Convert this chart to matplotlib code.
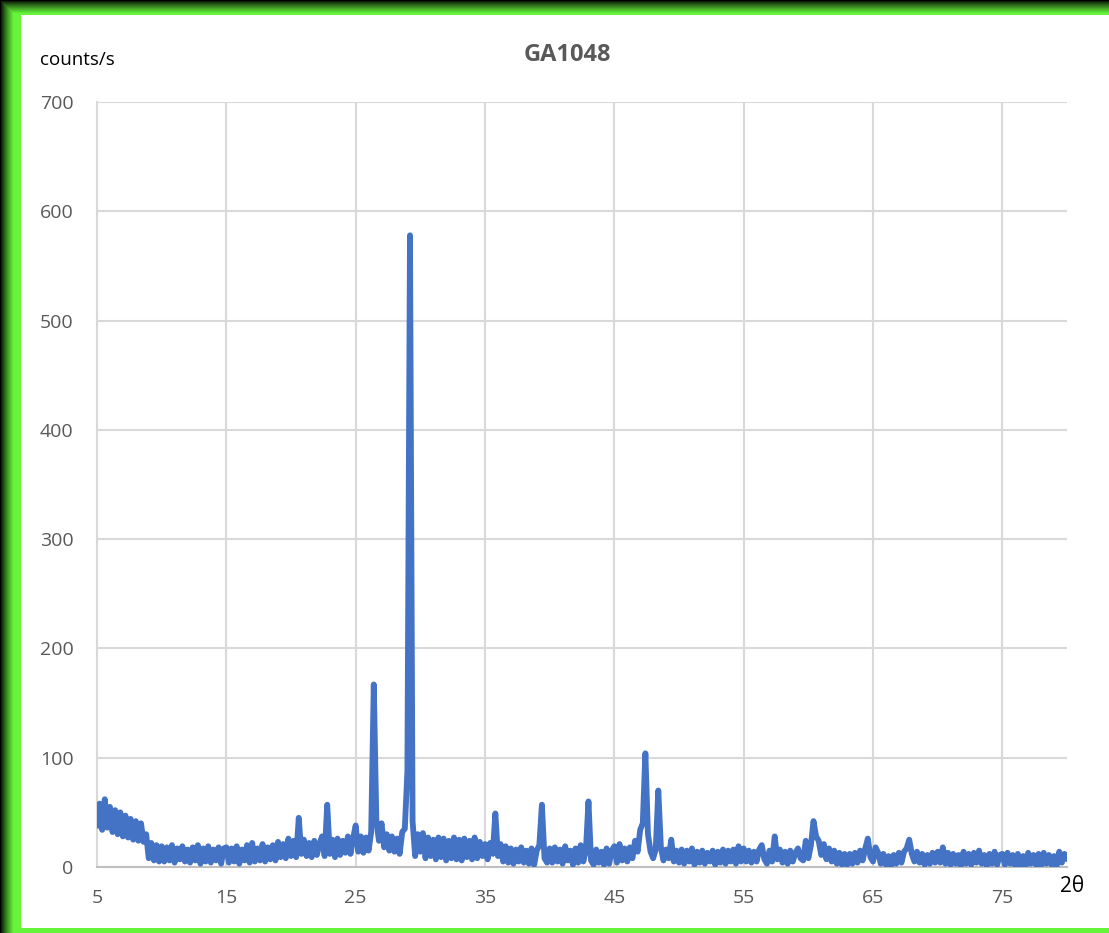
import matplotlib.pyplot as plt
import numpy as np

# 2theta scan, 0.2 degree step, counts
two_theta = np.round(np.arange(5.0, 80.01, 0.2), 1)

counts = [
    # 5.0 - 9.8
    38, 58, 34, 62, 36, 55, 32, 52, 30, 50, 28, 47, 27, 44, 25, 42, 24, 40, 23, 30, 8, 22, 6, 20, 5,
    # 10.0 - 14.8
    19, 5, 18, 6, 20, 4, 17, 7, 19, 5, 16, 4, 18, 6, 20, 3, 17, 5, 19, 4, 16, 6, 18, 3, 17,
    # 15.0 - 19.8
    18, 4, 17, 5, 19, 3, 16, 6, 20, 4, 22, 5, 17, 6, 21, 5, 18, 7, 20, 6, 23, 9, 21, 8, 26,
    # 20.0 - 24.8
    10, 24, 9, 45, 12, 25, 10, 22, 9, 24, 11, 21, 28, 10, 57, 12, 25, 9, 26, 11, 24, 13, 28, 12, 26,
    # 25.0 - 29.8
    38, 14, 28, 13, 27, 15, 32, 167, 42, 24, 40, 18, 30, 15, 28, 14, 26, 12, 32, 35, 88, 578, 42, 10, 30,
    # 30.0 - 34.8
    14, 31, 8, 27, 10, 25, 7, 27, 9, 26, 6, 24, 8, 27, 7, 25, 6, 26, 9, 24, 7, 27, 8, 23, 10,
    # 35.0 - 39.8
    21, 7, 22, 12, 49, 10, 21, 5, 19, 4, 17, 3, 16, 5, 18, 4, 15, 3, 17, 2, 15, 20, 57, 8, 4,
    # 40.0 - 44.8
    17, 4, 18, 5, 16, 3, 19, 6, 15, 2, 17, 4, 20, 5, 15, 60, 6, 2, 16, 4, 14, 2, 17, 3, 15,
    # 45.0 - 49.8
    19, 4, 21, 6, 17, 5, 18, 8, 24, 14, 34, 40, 104, 30, 14, 8, 16, 70, 18, 6, 16, 8, 25, 5, 15,
    # 50.0 - 54.8
    4, 16, 3, 15, 5, 17, 2, 14, 4, 15, 3, 13, 5, 15, 2, 14, 4, 16, 3, 15, 5, 16, 3, 19, 5,
    # 55.0 - 59.8
    17, 5, 15, 4, 14, 5, 16, 20, 7, 3, 15, 5, 28, 7, 16, 4, 14, 3, 15, 5, 13, 17, 8, 6, 24,
    # 60.0 - 64.8
    8, 20, 42, 28, 24, 11, 21, 7, 17, 5, 15, 3, 13, 2, 12, 2, 12, 3, 13, 4, 15, 6, 17, 26, 9,
    # 65.0 - 69.8
    5, 18, 13, 3, 12, 2, 10, 1, 11, 3, 13, 4, 14, 17, 25, 12, 5, 14, 4, 12, 2, 11, 3, 13, 4,
    # 70.0 - 74.8
    14, 4, 18, 3, 13, 2, 12, 3, 11, 1, 14, 3, 12, 2, 13, 4, 15, 3, 11, 1, 12, 3, 14, 2, 11,
    # 75.0 - 80.0
    12, 2, 13, 3, 11, 1, 12, 2, 10, 1, 13, 3, 11, 2, 12, 1, 13, 3, 11, 2, 10, 1, 14, 4, 12, 8,
]

x_ticks = [5, 15, 25, 35, 45, 55, 65, 75]
y_ticks = [0, 100, 200, 300, 400, 500, 600, 700]

plt.rcParams['font.family'] = ['Open Sans', 'DejaVu Sans']

W, H = 1109, 933
fig = plt.figure(figsize=(W / 100, H / 100), dpi=100)

# green glowing frame around a white chart area
green = np.array([0.40, 0.96, 0.23])
frame = np.ones((H, W, 3))
frame[:15, :, :] = green
frame[:, :21, :] = green
frame[928:, :, :] = green
rows = np.clip(np.arange(H) / 13.0, 0, 1)[:, None, None]
cols = np.clip(np.arange(W) / 13.0, 0, 1)[None, :, None]
shade = np.minimum(rows, cols) ** 0.8
frame = np.where((np.arange(H)[:, None, None] < 15) | (np.arange(W)[None, :, None] < 21),
                 frame * shade, frame)
bg = fig.add_axes([0, 0, 1, 1], zorder=-1)
bg.imshow(frame, aspect='auto', extent=[0, W, H, 0])
bg.axis('off')

ax = fig.add_axes([97 / W, 1 - 867 / H, (1067 - 97) / W, (867 - 102) / H])
ax.plot(two_theta, counts, color='#4472C4', lw=4.2, solid_joinstyle='round', zorder=3)

ax.set_xlim(5, 80)
ax.set_ylim(0, 700)
ax.set_xticks(x_ticks)
ax.set_yticks(y_ticks)
ax.grid(True, color='#D9D9D9', lw=1.5)
ax.set_axisbelow(True)
for s in ['top', 'right']:
    ax.spines[s].set_visible(False)
ax.spines['left'].set_color('#D9D9D9')
ax.spines['left'].set_linewidth(1.5)
ax.spines['bottom'].set_color('#BFBFBF')
ax.spines['bottom'].set_linewidth(1.5)
ax.tick_params(length=0, labelsize=14, labelcolor='#595959')
ax.tick_params(axis='y', pad=17)
ax.tick_params(axis='x', pad=16)

fig.text(567 / W, 1 - 55 / H, 'GA1048', ha='center', va='center',
         fontsize=17, fontweight='bold', color='#595959')
fig.text(40 / W, 1 - 60 / H, 'counts/s', ha='left', va='center', fontsize=13.5, color='black')
fig.text(1072 / W, 1 - 886 / H, '2θ', ha='center', va='center', fontsize=15, color='black')

fig.savefig('out.png', dpi=100)
